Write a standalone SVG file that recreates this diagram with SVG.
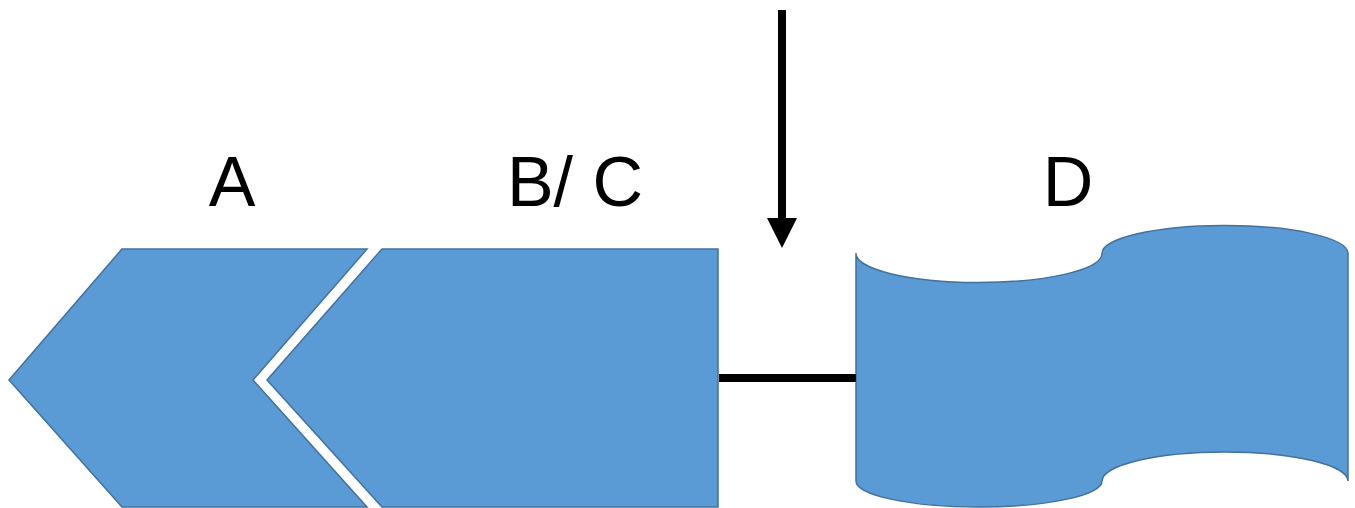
<svg xmlns="http://www.w3.org/2000/svg" width="1355" height="508" viewBox="0 0 1355 508">
  <defs>
    <style>
      .shape { fill: #5B9BD5; stroke: #41719C; stroke-width: 1.5; stroke-linejoin: miter; }
      .label { font-family: "Liberation Sans", Arial, sans-serif; font-size: 70px; fill: #000000; text-anchor: middle; }
      .conn { stroke: #000000; stroke-width: 8; fill: none; stroke-linecap: butt; }
    </style>
    <marker id="arrow" markerUnits="userSpaceOnUse" markerWidth="30" markerHeight="30" refX="0" refY="15" orient="auto" viewBox="0 0 30 30">
      <path d="M0,0 L30,15 L0,30 Z" fill="#000000"/>
    </marker>
  </defs>
  <rect width="1355" height="508" fill="#FFFFFF"/>

  <g id="node-A">
    <path class="shape" d="M122,249 L367,249 L253,380 L367,507 L122,507 L9,380 Z"/>
    <text class="label" x="232" y="206">A</text>
  </g>

  <g id="node-BC">
    <path class="shape" d="M382,249 L718,249 L718,507 L382,507 L267,380 Z"/>
    <text class="label" x="575" y="206">B/ C</text>
  </g>

  <g id="node-D">
    <path class="shape" d="M856,253 A123,29 0 0 0 1102,254 A123,28 0 0 1 1348,253 L1348,481 A123,29 0 0 0 1102,481 A123,26 0 0 1 856,481 Z"/>
    <text class="label" x="1068" y="206">D</text>
  </g>

  <g id="connectors">
    <line class="conn" x1="719" y1="378" x2="856" y2="378"/>
    <line class="conn" x1="782" y1="10" x2="782" y2="218" marker-end="url(#arrow)"/>
  </g>
</svg>
